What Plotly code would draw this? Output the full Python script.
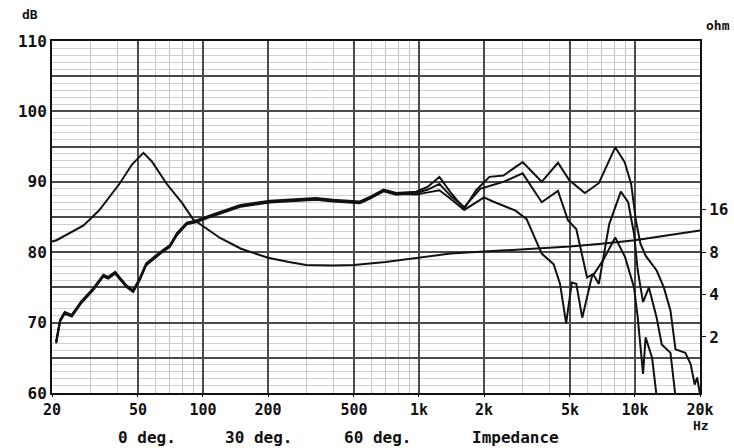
import numpy as np
import plotly.graph_objects as go

# ---------------- data ----------------
# shared low-frequency part of the three SPL curves
f_low = [20.9, 21.8, 22.9, 24.7, 27.3, 31.1, 34.6, 36.4, 39.2, 44.2, 47.5, 51, 54.6,
         63.2, 70.3, 75.8, 84.1, 93, 107, 149, 204, 291, 334, 400, 533, 596, 686, 785]
spl_low = [67.2, 70.3, 71.4, 71.0, 72.9, 74.8, 76.7, 76.4, 77.1, 75.2, 74.5, 76.2, 78.3,
           79.9, 80.9, 82.6, 84.1, 84.4, 85.1, 86.6, 87.2, 87.45, 87.6, 87.35, 87.1, 87.8, 88.8, 88.3]

f_0 = [970, 1100, 1243, 1400, 1620, 1840, 2120, 2460, 3020, 3700, 4400, 4970, 5860, 6800,
       8100, 8960, 9600, 10100, 10600, 11200, 12600, 13600, 14600, 15400, 17100, 18100,
       18900, 19400, 20000]
spl_0 = [88.6, 89.3, 90.7, 88.5, 86.2, 88.8, 90.7, 90.9, 92.8, 90.0, 92.7, 90.2, 88.4, 89.8,
         94.9, 92.8, 89.7, 84.5, 81.2, 79.5, 77.4, 75.0, 71.7, 66.2, 65.7, 64.1,
         61.2, 62.2, 59.8]

f_30 = [970, 1100, 1243, 1400, 1620, 1920, 2460, 3020, 3700, 4400, 4900, 5350, 6000, 6400,
        6800, 7600, 8600, 9300, 9900, 10300, 10900, 11600, 12600, 13300, 14600, 15400]
spl_30 = [88.4, 88.9, 89.7, 88.0, 86.4, 89.0, 90.0, 91.2, 87.1, 88.7, 84.5, 83.3, 76.4, 76.9,
          75.5, 84.0, 88.6, 87.1, 82.6, 77.4, 72.9, 75.0, 70.7, 66.9, 65.7, 59.5]

f_60 = [970, 1100, 1243, 1400, 1620, 2000, 2200, 2800, 3150, 3700, 4200, 4500, 4800, 5100,
        5350, 5700, 6300, 7100, 8100, 9000, 9900, 10300, 10900, 11200, 12000, 12600]
spl_60 = [88.2, 88.5, 88.8, 87.6, 86.0, 87.8, 87.2, 85.9, 84.7, 79.8, 78.3, 75.5, 69.9, 75.7,
          75.5, 70.7, 76.4, 78.8, 82.1, 79.3, 75.0, 70.7, 62.7, 67.9, 65.0, 59.5]

f_imp = [20, 21, 28, 33, 41, 47, 53, 58, 68, 80, 90, 105, 120, 150, 200, 250, 300, 400,
         500, 700, 1000, 1400, 2000, 3000, 5000, 7000, 10000, 14000, 20000]
z_imp = [9.51, 9.73, 12.4, 15.8, 24.4, 33.7, 40.6, 35.3, 24.4, 17.9, 13.7, 11.7, 10.1, 8.47,
         7.30, 6.81, 6.50, 6.43, 6.50, 6.81, 7.30, 7.82, 8.09, 8.38, 8.77, 9.18, 9.73, 10.5, 11.4]

x_tickvals = [20, 50, 100, 200, 500, 1000, 2000, 5000, 10000, 20000]
x_ticktext = ["20", "50", "100", "200", "500", "1k", "2k", "5k", "10k", "20k"]
x_minor = [30, 40, 60, 70, 80, 90, 300, 400, 600, 700, 800, 900,
           3000, 4000, 6000, 7000, 8000, 9000]
y_tickvals = [60, 65, 70, 75, 80, 85, 90, 95, 100, 105, 110]
y_ticktext = ["60", "", "70", "", "80", "", "90", "", "100", "", "110"]
z_tickvals = [2, 4, 8, 16]
legend_labels = ["0 deg.", "30 deg.", "60 deg.", "Impedance"]

# ---------------- figure ----------------
FONT = dict(family="DejaVu Sans Mono", size=16, color="#111", weight="bold")
XFONT = dict(family="DejaVu Sans Mono", size=15, color="#111", weight="bold")
SMALL = dict(family="DejaVu Sans Mono", size=13, color="#111", weight="bold")
line_style = dict(color="#111", width=2)

fig = go.Figure()
fig.add_trace(go.Scatter(x=f_low + f_60, y=spl_low + spl_60,
                         mode="lines", line=line_style, name=legend_labels[2]))
fig.add_trace(go.Scatter(x=f_low + f_30, y=[v - 0.15 for v in spl_low] + spl_30,
                         mode="lines", line=line_style, name=legend_labels[1]))
fig.add_trace(go.Scatter(x=f_low + f_0, y=[v + 0.1 for v in spl_low] + spl_0,
                         mode="lines", line=line_style, name=legend_labels[0]))
fig.add_trace(go.Scatter(x=f_imp, y=z_imp, yaxis="y2", mode="lines",
                         line=line_style, name=legend_labels[3]))

fig.update_layout(
    width=734, height=448,
    margin=dict(l=52, r=34, t=41, b=55, autoexpand=False),
    paper_bgcolor="white", plot_bgcolor="white",
    showlegend=False,
    font=FONT,
    xaxis=dict(
        type="log", range=[np.log10(20), np.log10(20000)],
        tickvals=x_tickvals, ticktext=x_ticktext, automargin=False,
        showgrid=True, gridcolor="#4a4a4a", gridwidth=1.5,
        minor=dict(tickvals=x_minor, showgrid=True, gridcolor="#c4c4c4", gridwidth=1, ticks=""),
        showline=True, linecolor="#111", linewidth=2, mirror=True,
        ticks="outside", ticklen=2, tickcolor="#111",
        tickfont=XFONT, zeroline=False,
    ),
    yaxis=dict(
        range=[60, 110], tickvals=y_tickvals, ticktext=y_ticktext, automargin=False,
        showgrid=True, gridcolor="#4a4a4a", gridwidth=1.5,
        minor=dict(dtick=1, showgrid=True, gridcolor="#cfcfcf", gridwidth=1, ticks=""),
        showline=True, linecolor="#111", linewidth=2, mirror=True,
        ticks="", tickfont=FONT, zeroline=False,
    ),
    yaxis2=dict(
        overlaying="y", side="right", type="log", automargin=False,
        range=[np.log10(8) - 1.0, np.log10(8) + 1.5],
        tickvals=z_tickvals, ticktext=[str(v) for v in z_tickvals],
        showgrid=False, ticks="outside", ticklen=5, tickcolor="#111",
        tickfont=FONT, zeroline=False, showline=False,
    ),
)

pw, ph = 648.0, 352.0
def px(xp):
    return (xp - 52) / pw
def py(yp):
    return (393 - yp) / ph

anns = [
    dict(text="dB", x=px(30), y=py(14), xanchor="center", font=SMALL),
    dict(text="ohm", x=px(704), y=py(25), xanchor="left", font=SMALL),
    dict(text="Hz", x=px(701), y=py(425), xanchor="center", font=SMALL),
]
for lab, cx in zip(legend_labels, [147, 258, 377, 515]):
    anns.append(dict(text=lab, x=px(cx), y=py(437), xanchor="center", font=FONT))
for a in anns:
    fig.add_annotation(xref="paper", yref="paper", yanchor="middle",
                       showarrow=False, **a)

fig.write_html("out.html", config={"displayModeBar": False},
               post_script="document.body.style.margin='0';document.body.style.overflow='hidden';")
